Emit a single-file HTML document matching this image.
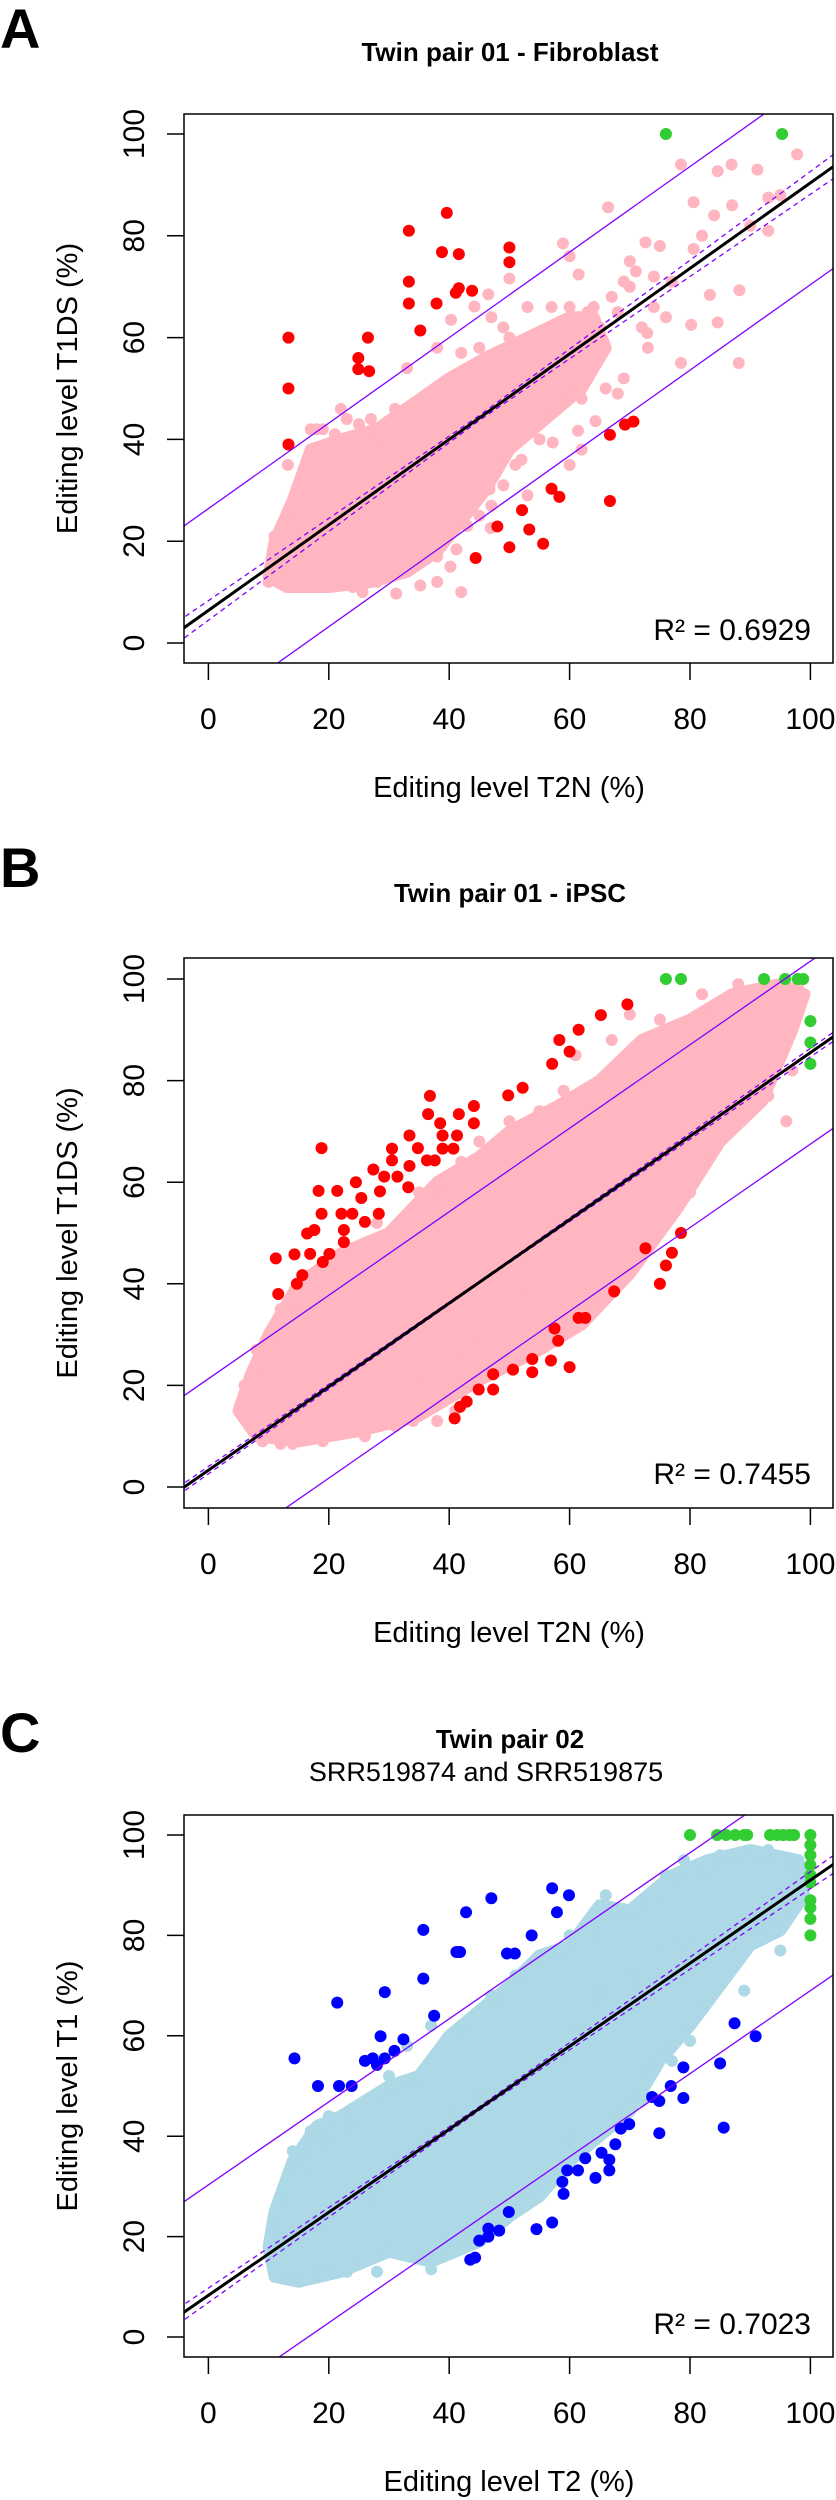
<!DOCTYPE html>
<html><head><meta charset="utf-8"><style>
body{margin:0;background:#fff}
svg{display:block;font-family:"Liberation Sans",sans-serif}
</style></head><body>
<svg id="fig" width="836" height="2500" viewBox="0 0 836 2500" xmlns="http://www.w3.org/2000/svg"></svg>
<script>
// ---------- Panel A data ----------
const aRed=[[13.3,60],[13.3,50],[13.3,39],[24.9,56],[24.9,53.8],[26.7,53.4],[26.5,60],[33.3,81],[33.3,71],[33.3,66.7],[35.2,61.4],[37.9,66.7],[38.8,76.8],[39.6,84.5],[41.6,76.4],[41.1,68.8],[41.6,69.7],[43.8,69.2],[50,77.7],[50,74.8],[66.7,40.9],[69.2,42.9],[70.6,43.5],[57,30.3],[58.3,28.7],[66.7,27.9],[52.1,26.1],[48,22.9],[53.3,22.3],[55.6,19.5],[50,18.8],[44.4,16.7]];
const aGreen=[[76,100],[95.3,100]];
const aPink=[[97.8,96],[78.5,94],[86.9,94],[84.6,92.7],[91.2,93],[93,87.5],[80.6,86.6],[66.4,85.6],[72.6,78.7],[58.9,78.5],[50,71.6],[61.5,72.4],[80.6,77.4],[88.1,55],[78.5,55],[84.6,63],[80.2,62.5],[88.2,69.3],[83.3,68.4],[72.9,60.9],[57.2,39.4],[61.4,41.7],[64.3,43.6],[44.2,66.1],[40.3,63.5],[46.5,68.5],[40.2,15],[35.2,11.3],[31.2,9.7],[13.2,35],[25.6,10],[53,29],[46.7,30.2],[46.9,22.6],[41.2,18.4],[84,84],[87,86],[90,82],[93,81],[75,78],[77,71],[70,70],[68,65],[64,66],[62,60],[66,50],[62,48],[58,52],[55,40],[52,36],[48,35],[44,33],[54,50],[56,58],[50,60],[45,58],[43,52],[40,40],[36,45],[28,40],[18,42],[22,46],[30,37],[60,66],[70,75],[74,72],[82,80],[95,88],[20,12],[15,14],[35,20],[17,42],[19,42],[21,41],[23,44],[25,43],[27,44],[31,46],[33,54],[36,48],[38,58],[42,57],[47,64],[49,62],[53,66],[57,66],[60,76],[63,65],[65,62],[67,68],[69,71],[71,73],[74,66],[76,64],[73,58],[72,62],[69,52],[68,49],[64,55],[60,56],[58,47],[56,49],[53,44],[51,35],[49,31],[47,27],[45,25],[43,23],[38,17],[33,15],[28,12],[24,11],[17,11],[12,16],[11,21],[10,12],[16,28],[14,24],[42,10],[38,12],[60,35],[62,38]];
const aCloud=[[10,13],[11,20],[14,28],[17,38],[22,40],[28,42],[34,47],[40,52],[46,56],[53,60],[60,64],[64,64],[66,58],[62,50],[56,44],[50,38],[46,30],[42,24],[38,18],[33,14],[27,12],[20,11],[13,11]];
const aFit=[6.4,0.84,20,1.6]; // intercept, slope, band, ci
// ---------- Panel B data ----------
const bRed=[[11.2,45],[11.6,38],[14.3,45.8],[14.7,40],[15.6,41.7],[16.4,49.9],[17.6,50.6],[16.9,45.9],[18.3,58.3],[18.8,66.7],[18.8,53.8],[19,44.3],[20.1,45.9],[21.4,58.3],[22.1,53.8],[22.5,50.6],[22.5,48.2],[24.5,60],[23.9,53.8],[25.4,56.9],[26,52.2],[27.4,62.5],[28.3,53.8],[28.5,58.2],[29.2,61.1],[30.5,66.6],[31.4,61.1],[30.5,64.3],[33.4,69.2],[33.4,63.2],[33.2,59],[34.8,66.7],[36.3,64.3],[36.8,77],[36.5,73.4],[37.6,64.3],[38.5,71.6],[38.9,69.2],[38.9,66.6],[40.7,66.6],[41.3,69.2],[41.6,73.4],[44.1,75],[44.1,71.6],[49.8,77.1],[52.2,78.6],[57.1,83.3],[58.3,88],[60,85.7],[61.5,90],[65.2,92.9],[69.6,95],[72.6,47],[75,40],[76,43.6],[77,46.1],[78.5,50],[67.4,38.5],[61.5,33.3],[62.6,33.3],[57.5,31.2],[58.1,28.8],[56.9,24.9],[60,23.6],[53.8,25.2],[53.8,22.6],[50.6,23.1],[47.3,22.2],[47.3,19.2],[44.9,19.2],[42.9,16.8],[41.8,15.8],[40.9,13.5]];
const bGreen=[[76,100],[78.5,100],[92.3,100],[95.8,100],[97.9,100],[98.8,100],[100,91.7],[100,87.5],[100,83.3]];
const bPink=[[6,16],[9,9],[12,8.5],[14,8.5],[19,9],[26,10],[34,13],[38,13],[41,15],[55,30],[58,35],[60,45],[63,47],[65,45],[67,52],[70,60],[72,52],[75,59],[78,57],[80,58],[83,66],[88,73],[93,77],[96,72],[97,82],[99,97],[98,98],[88,99],[82,97],[75,92],[70,93],[67,88],[61,85],[66,80],[59,78],[55,74],[50,72],[45,68],[42,64],[35,58],[28,52],[20,45],[16,38],[12,35],[8,27],[6,20],[48,35],[52,40],[62,38],[64,42],[46,30],[43,26],[36,20],[30,16],[25,13],[31,12]];
const bCloud=[[5,15],[8,10],[15,9],[25,11],[35,14],[45,21],[55,27],[62,32],[70,42],[78,55],[85,68],[92,76],[97,90],[99,97],[95,99],[87,97],[80,92],[72,88],[65,80],[58,75],[50,70],[45,65],[38,60],[30,50],[22,46],[15,40],[10,30],[7,22]];
const bFit=[3.3,0.822,18,0.6];
// ---------- Panel C data ----------
const cBlue=[[14.3,55.5],[18.2,50],[21.4,66.6],[21.7,50],[23.8,50],[26,55],[27.3,55.5],[28,54.2],[29.3,55.5],[28.6,59.9],[29.3,68.7],[30.9,57],[32.4,59.3],[35.7,81.1],[35.7,71.4],[37.5,64],[41.2,76.7],[41.8,76.7],[42.8,84.6],[47,87.4],[49.6,76.4],[50.9,76.4],[53.7,80],[57.1,89.4],[57.9,84.6],[59.9,88],[90.9,59.9],[87.4,62.5],[85,54.5],[85.6,41.7],[78.9,53.7],[76.8,50],[78.9,47.6],[74.9,47],[73.7,47.8],[74.9,40.6],[69.9,42.4],[68.5,41.5],[67.6,38.4],[66.6,35.3],[66.6,33.2],[65.3,36.7],[64.3,31.7],[62.6,35.6],[61.4,33.2],[59.6,33.2],[58.8,30.9],[59,28.5],[57.1,22.8],[54.5,21.5],[49.9,24.9],[48.3,21.2],[46.5,21.6],[46.5,20],[45,19.2],[44.3,15.8],[43.5,15.4]];
const cGreen=[[80,100],[84.5,100],[86,100],[87.5,100],[89,100],[89.5,100],[93.3,100],[94.5,100],[95.5,100],[96.5,100],[97.3,100],[100,100],[100,98],[100,96],[100,94],[100,92],[100,90.5],[100,87],[100,85.5],[100,83.3],[100,80]];
const cPink=[[11,19],[13,12],[14,35],[14,37],[15,33],[17,41],[20,44],[23,13],[28,13],[37,13.5],[44,18.6],[51,28],[56,30],[60,40],[68,44],[72,47],[77,55],[80,59],[83,67],[89,69],[95,77],[97,94],[93,97],[88,96],[85,96],[82,93],[79,95],[76,92],[74,86],[70,85],[66,88],[63,80],[60,80],[55,76],[51,72],[47,68],[42,62],[37,62],[33,58],[30,52],[24,42],[19,39],[55,58],[60,62],[65,68],[70,72],[74,77],[79,79],[36,40],[40,45],[45,48],[26,28],[22,26]];
const cCloud=[[11,12],[15,11],[22,13],[30,17],[37,15],[45,19],[50,24],[55,28],[60,35],[65,40],[70,45],[75,55],[80,62],[85,70],[90,78],[95,81],[99,88],[98,95],[90,97],[83,95],[77,92],[70,85],[65,86],[60,78],[55,76],[50,70],[45,65],[40,60],[35,52],[30,50],[22,44],[18,42],[14,35],[11,25],[10,18]];
const cFit=[8.3,0.827,22,1.2];
const xTicks=[0,20,40,60,80,100];
const yTicks=[0,20,40,60,80,100];

const NS="http://www.w3.org/2000/svg";
const svg=document.getElementById('fig');
function mk(tag,attrs,parent){const e=document.createElementNS(NS,tag);for(const k in attrs)e.setAttribute(k,attrs[k]);(parent||svg).appendChild(e);return e;}

function panel(P){
  const g=mk('g',{});
  
  
  const L=184,R=833,T=P.top,B=P.bot;
  const sx=v=>208.4+v*6.02;
  const sy=v=>P.y0+(P.y100-P.y0)*v/100;
  const lt=mk('text',{x:0,y:P.letterY,'font-size':56,'font-weight':'bold','font-family':'"Liberation Sans",sans-serif'},g);lt.textContent=P.letter;
  
  
  const tt=mk('text',{x:510,y:P.titleY,'font-size':26,'font-weight':'bold','text-anchor':'middle'},g);tt.textContent=P.title;
  
  
  if(P.sub){const st=mk('text',{x:486,y:P.titleY+33,'font-size':27,'text-anchor':'middle'},g);st.textContent=P.sub;
    
    }
  const cid='clip'+P.letter;
  const cp=mk('clipPath',{id:cid},g);mk('rect',{x:L,y:T,width:R-L,height:B-T},cp);
  const pg=mk('g',{'clip-path':'url(#'+cid+')'},g);
  const cl=mk('polygon',{points:P.cloud.map(p=>sx(p[0])+','+sy(p[1])).join(' '),fill:P.light,stroke:P.light,'stroke-width':12,'stroke-linejoin':'round'},pg);
  
  
  for(const p of P.pink){const c=mk('circle',{cx:sx(p[0]),cy:sy(p[1]),r:6,fill:P.light},pg);
    
    }
  for(const p of P.out){const c=mk('circle',{cx:sx(p[0]),cy:sy(p[1]),r:6,fill:P.dark},pg);
    
    }
  for(const p of P.green){const c=mk('circle',{cx:sx(p[0]),cy:sy(p[1]),r:6,fill:'#32CD32'},pg);
    
    }
  const [a,b,band,ci]=P.fit;
  const x1=-10,x2=110;
  const line=(off,attrs,name)=>{const l=mk('line',Object.assign({x1:sx(x1),y1:sy(a+b*x1+off),x2:sx(x2),y2:sy(a+b*x2+off)},attrs),pg);
    
    };
  line(band,{stroke:'#8000FF','stroke-width':1.3},'upper-band-line');
  line(-band,{stroke:'#8000FF','stroke-width':1.3},'lower-band-line');
  for(const s of [1,-1]){
    const pts=[];for(let x=x1;x<=x2;x+=5){const w=ci*(0.3+Math.abs(x-45)/50);pts.push(sx(x)+','+sy(a+b*x+s*w));}
    const pl=mk('polyline',{points:pts.join(' '),fill:'none',stroke:'#8000FF','stroke-width':1.3,'stroke-dasharray':'5,4'},pg);
    
    
  }
  line(0,{stroke:'#000','stroke-width':3},'regression-line');
  const box=mk('rect',{x:L,y:T,width:R-L,height:B-T,fill:'none',stroke:'#000','stroke-width':1.5},g);
  
  
  for(const t of xTicks){mk('line',{x1:sx(t),y1:B,x2:sx(t),y2:B+17,stroke:'#000','stroke-width':1.5},g);
    const tx=mk('text',{x:sx(t),y:B+66,'font-size':30,'text-anchor':'middle'},g);tx.textContent=t;
    
    }
  for(const t of yTicks){mk('line',{x1:L-17,y1:sy(t),x2:L,y2:sy(t),stroke:'#000','stroke-width':1.5},g);
    const ty=mk('text',{x:0,y:0,'font-size':30,'text-anchor':'middle',transform:'translate(144,'+sy(t)+') rotate(-90)'},g);ty.textContent=t;
    
    }
  const xl=mk('text',{x:509,y:B+134,'font-size':29,'text-anchor':'middle'},g);xl.textContent=P.xlab;
  
  
  const yl=mk('text',{x:0,y:0,'font-size':29,'text-anchor':'middle',transform:'translate(77,'+(T+B)/2+') rotate(-90)'},g);yl.textContent=P.ylab;
  
  
  const r2=mk('text',{x:811,y:sy(0)-3,'font-size':30,'text-anchor':'end'},g);r2.textContent=P.r2;
  
  
}
panel({name:'panel-a-fibroblast',letter:'A',letterY:48,title:'Twin pair 01 - Fibroblast',titleY:61,top:114,bot:663,y100:134,y0:643,
  cloud:aCloud,pink:aPink,out:aRed,green:aGreen,light:'#FFB6C1',dark:'#FF0000',fit:aFit,
  xlab:'Editing level T2N (%)',ylab:'Editing level T1DS (%)',r2:'R² = 0.6929'});
panel({name:'panel-b-ipsc',letter:'B',letterY:887,title:'Twin pair 01 - iPSC',titleY:902,top:958,bot:1508,y100:979,y0:1487,
  cloud:bCloud,pink:bPink,out:bRed,green:bGreen,light:'#FFB6C1',dark:'#FF0000',fit:bFit,
  xlab:'Editing level T2N (%)',ylab:'Editing level T1DS (%)',r2:'R² = 0.7455'});
panel({name:'panel-c-twin-pair-02',letter:'C',letterY:1752,title:'Twin pair 02',titleY:1748,sub:'SRR519874 and SRR519875',top:1815,bot:2357,y100:1835,y0:2337,
  cloud:cCloud,pink:cPink,out:cBlue,green:cGreen,light:'#ADD8E6',dark:'#0000FF',fit:cFit,
  xlab:'Editing level T2 (%)',ylab:'Editing level T1 (%)',r2:'R² = 0.7023'});
</script>
</body></html>
